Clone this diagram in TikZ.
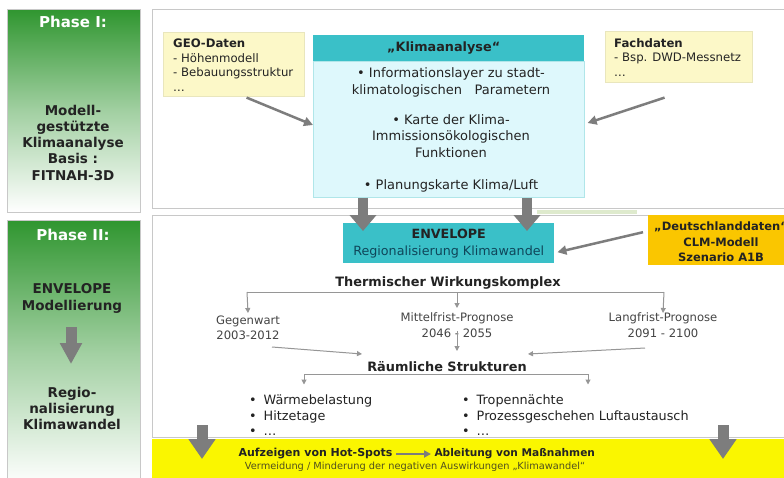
\documentclass[tikz,border=0pt]{standalone}
\usepackage{fontspec}
\setmainfont{DejaVu Sans}
\usetikzlibrary{arrows.meta}
\definecolor{gphase}{RGB}{48,150,48}
\definecolor{tealc}{RGB}{58,192,200}
\definecolor{cyanbody}{RGB}{222,248,252}
\definecolor{lyellow}{RGB}{252,248,200}
\definecolor{orangey}{RGB}{250,198,0}
\definecolor{yband}{RGB}{250,246,0}
\definecolor{arrgray}{RGB}{125,125,125}
\definecolor{thingray}{RGB}{150,150,150}
\definecolor{panelb}{RGB}{200,200,200}
\definecolor{txtc}{RGB}{35,35,35}
\definecolor{envtxt}{RGB}{15,70,90}
\definecolor{olive}{RGB}{80,80,30}
\definecolor{lgreen}{RGB}{222,234,205}
\begin{document}
\begin{tikzpicture}[x=1pt,y=-1pt,
  box/.style={inner sep=0pt,anchor=north west},
  greenpanel/.style={box,draw=panelb,line width=0.8pt,top color=gphase,bottom color=white,middle color=gphase!45},
  panel/.style={box,draw=panelb,line width=1pt,fill=white},
  phtitle/.style={font=\bfseries\fontsize{15}{18}\selectfont,text=white},
  phtext/.style={font=\bfseries\fontsize{13.5}{16.3}\selectfont,text=txtc,align=center},
  datatxt/.style={font=\fontsize{11.7}{14.5}\selectfont,text=txtc,align=left,anchor=west,inner sep=0pt},
  bigarrow/.style={draw=arrgray,line width=10pt,-{Triangle[width=26pt,length=16pt]}},
  medarrow/.style={draw=arrgray,line width=2.5pt,-{Triangle[width=9pt,length=9pt]}},
  tline/.style={draw=thingray,line width=1pt},
  tarrow/.style={draw=thingray,line width=1pt,-{Triangle[width=5pt,length=5pt]}},
  smalltxt/.style={font=\fontsize{11.6}{15.5}\selectfont,text=txtc!85,align=center},
  headtxt/.style={font=\bfseries\fontsize{12.9}{15}\selectfont,text=txtc},
  bullettxt/.style={font=\fontsize{12.8}{15.5}\selectfont,text=txtc,align=left,anchor=west,inner sep=0pt}
]
\clip (0,0) rectangle (784,477);
\fill[white] (0,0) rectangle (784,477);

% ---------- left phase panels ----------
\node[greenpanel,minimum width=133pt,minimum height=203pt] (p1) at (7,9) {};
\node[phtitle] (p1t) at (73,22) {Phase I:};
\node[phtext] (p1b) at (73,142.6) {Modell-\\gestützte\\Klimaanalyse\\Basis :\\FITNAH-3D};

\node[greenpanel,minimum width=133pt,minimum height=265pt] (p2) at (7,220) {};
\node[phtitle] (p2t) at (73,235) {Phase II:};
\node[phtext] (p2a) at (72,298.5) {ENVELOPE\\Modellierung};
\node[phtext] (p2b) at (72,408.5) {Regio-\\nalisierung\\Klimawandel};
\coordinate (p2s) at (71,327);
\coordinate (p2e) at (71,364);
\draw[draw=arrgray,line width=11pt,-{Triangle[width=21pt,length=21pt]}] (p2s) -- (p2e);

% ---------- right panels ----------
\node[panel,minimum width=660pt,minimum height=199pt] (r1) at (152,9) {};
\node[panel,minimum width=660pt,minimum height=222pt] (r2) at (152,215) {};
\fill[lgreen] (537,209.5) rectangle (637,214);
\node[box,fill=yband,minimum width=660pt,minimum height=40pt] (yb) at (152,438.5) {};

% ---------- Phase I content ----------
\node[box,fill=lyellow,draw=lyellow!85!gray,line width=0.6pt,minimum width=141pt,minimum height=64pt] (geo) at (163,32) {};
\node[datatxt] (geot) at (173,65) {\textbf{GEO-Daten}\\- Höhenmodell\\- Bebauungsstruktur\\\ldots};

\node[box,fill=lyellow,draw=lyellow!85!gray,line width=0.6pt,minimum width=147pt,minimum height=51pt] (fach) at (605,31) {};
\node[datatxt] (facht) at (614,57.5) {\textbf{Fachdaten}\\- Bsp. DWD-Messnetz\\\ldots};

\node[box,fill=tealc,minimum width=271pt,minimum height=26pt] (kh) at (313,35) {};
\node[headtxt,font=\bfseries\fontsize{12.8}{15}\selectfont] (kht) at ([xshift=-5pt]kh.center) {„Klimaanalyse“};
\node[box,fill=cyanbody,draw=tealc!40,line width=0.6pt,minimum width=271pt,minimum height=136pt] (kb) at (313,61) {};
\node[font=\fontsize{13}{16.5}\selectfont,text=txtc,align=center] (kbt) at (451,130) {\textbullet{} Informationslayer zu stadt-\\klimatologischen\ \ \ Parametern\\[13.5pt]\textbullet{} Karte der Klima-\\Immissionsökologischen\\Funktionen\\[16pt]\textbullet{} Planungskarte Klima/Luft};

\draw[medarrow] ([xshift=-58pt,yshift=-1pt]geo.south east) -- ([yshift=-64pt]kb.north west);
\draw[medarrow] ([xshift=-88pt,yshift=-15pt]fach.south east) -- ([xshift=3pt,yshift=-62pt]kb.north east);

% ---------- Phase II content ----------
\node[box,fill=tealc,minimum width=211pt,minimum height=40pt] (env) at (343,223) {};
\node[font=\fontsize{12.7}{17}\selectfont,align=center,text=envtxt] (envt) at (env.center) {\textbf{\color{txtc}ENVELOPE}\\Regionalisierung Klimawandel};

\draw[bigarrow] (kb.south -| 363,0) -- ([yshift=-8pt]env.north -| 363,0);
\draw[bigarrow] (kb.south -| 527,0) -- ([yshift=-8pt]env.north -| 527,0);

\node[box,fill=orangey,minimum width=150pt,minimum height=50pt] (de) at (648,215) {};
\node[font=\bfseries\fontsize{11.5}{15.5}\selectfont,align=center,text=txtc] (det) at (721,242) {„Deutschlanddaten“\\CLM-Modell\\Szenario A1B};
\draw[medarrow] ([xshift=-5pt,yshift=8pt]de.west) -- ([xshift=3pt,yshift=-9pt]env.east);

\node[headtxt] (therm) at (448,283) {Thermischer Wirkungskomplex};
\coordinate (hl) at (247,292);
\coordinate (hr) at (664,292);
\draw[tline] (hl) -- (hr);

\node[smalltxt] (gegen) at (248,328) {Gegenwart\\2003-2012};
\node[smalltxt] (mittel) at (457,325) {Mittelfrist-Prognose\\2046 - 2055};
\node[smalltxt] (lang) at (663,325) {Langfrist-Prognose\\2091 - 2100};

\draw[tarrow] (hl) -- ([yshift=15pt]gegen.center);
\draw[tarrow] (hr) -- ([yshift=12pt]lang.center);
\draw[tarrow] (therm.south -| mittel.north) -- ([yshift=17pt]mittel.center);

\node[headtxt] (raeum) at (447,367) {Räumliche Strukturen};
\draw[tarrow] ([xshift=24pt,yshift=-19pt]gegen.center) -- ([xshift=-85pt,yshift=13pt]raeum.center);
\draw[tarrow] ([yshift=-6pt]mittel.center) -- ([xshift=10pt,yshift=16pt]raeum.center);
\draw[tarrow] ([xshift=-18pt,yshift=-23pt]lang.center) -- ([xshift=81pt,yshift=13pt]raeum.center);

\coordinate (rl) at (304,374);
\coordinate (rr) at (588,374);
\draw[tline] (rl) -- (rr);
\node[bullettxt] (bl) at (249,415.5) {\textbullet\hspace{7pt}Wärmebelastung\\\textbullet\hspace{7pt}Hitzetage\\\textbullet\hspace{7pt}\ldots};
\node[bullettxt] (br) at (462,415.5) {\textbullet\hspace{7pt}Tropennächte\\\textbullet\hspace{7pt}Prozessgeschehen Luftaustausch\\\textbullet\hspace{7pt}\ldots};
\draw[tarrow] (rl) -- ([yshift=31pt]rl |- bl.center);
\draw[tarrow] (rr) -- ([yshift=31pt]rr |- br.center);

% ---------- bottom ----------
\coordinate (ba1) at (202,425);
\coordinate (bb1) at (202,459);
\coordinate (ba2) at (723,425);
\coordinate (bb2) at (723,459);
\draw[bigarrow,line width=11pt,-{Triangle[width=26pt,length=20pt]}] (ba1) -- (bb1);
\draw[bigarrow,line width=11pt,-{Triangle[width=26pt,length=20pt]}] (ba2) -- (bb2);

\node[font=\bfseries\fontsize{11}{14}\selectfont,text=txtc,anchor=east] (hot) at (396,454) {Aufzeigen von Hot-Spots};
\node[font=\bfseries\fontsize{10.6}{14}\selectfont,text=txtc,anchor=west] (abl) at (431,454) {Ableitung von Maßnahmen};
\draw[draw=arrgray,line width=2pt,-{Triangle[width=7pt,length=7pt]}] (hot.east) -- (abl.west);
\node[font=\fontsize{9.8}{12}\selectfont,text=olive] (verm) at (415,467) {Vermeidung / Minderung der negativen Auswirkungen „Klimawandel“};
\end{tikzpicture}
\end{document}
